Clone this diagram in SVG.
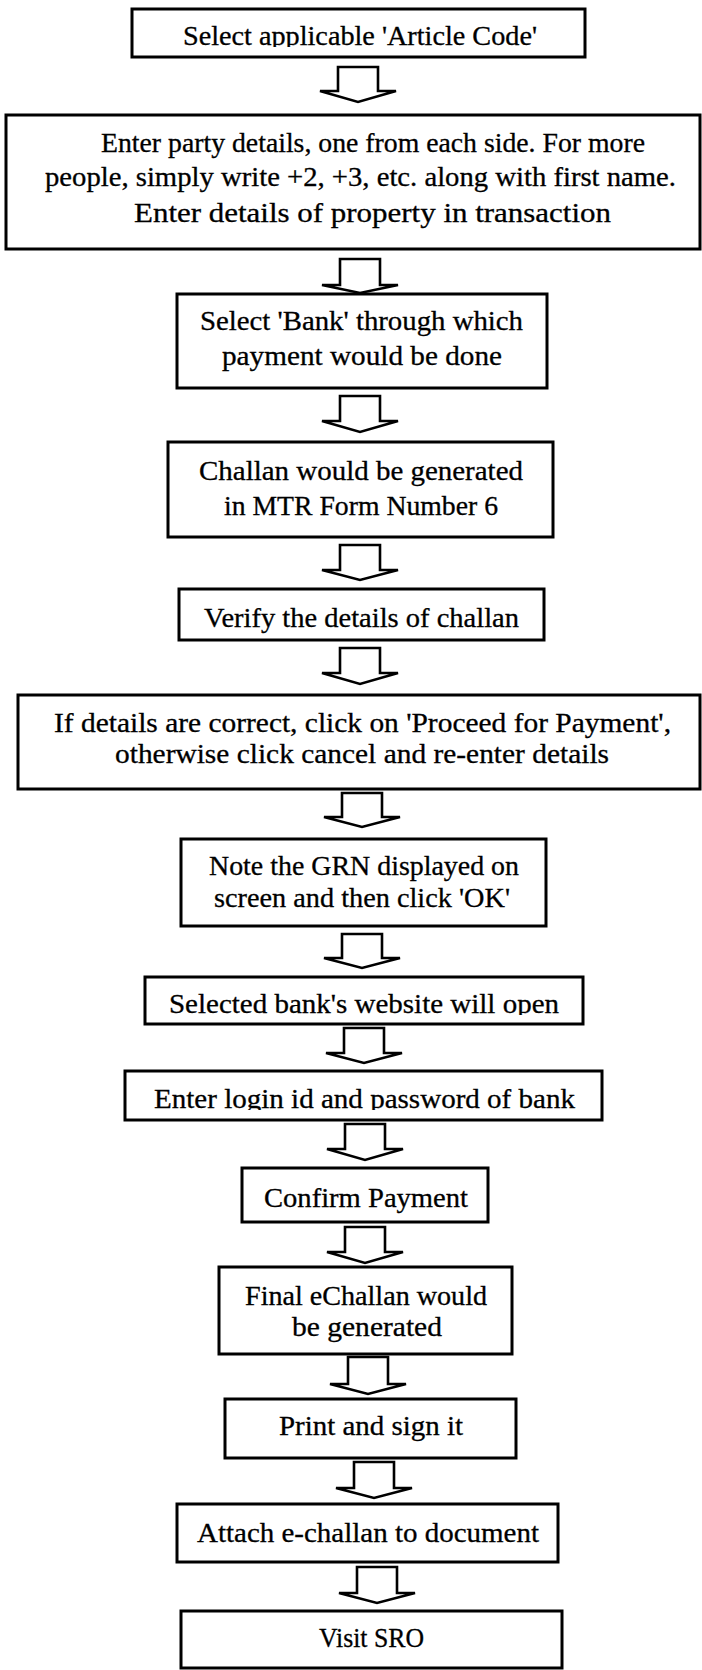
<svg xmlns="http://www.w3.org/2000/svg" width="702" height="1670" viewBox="0 0 702 1670">
<style>
.box{fill:#fff;stroke:#000;stroke-width:3}
.arr{fill:#fff;stroke:#000;stroke-width:2.6;stroke-linejoin:miter}
text{font-family:"Liberation Serif","Times New Roman",serif;font-size:27px;fill:#000;stroke:#000;stroke-width:0.3;text-anchor:middle}
</style>
<defs>
<clipPath id="c1"><rect x="0" y="0" width="702" height="47"/></clipPath>
<clipPath id="c8"><rect x="0" y="970" width="702" height="45"/></clipPath>
<clipPath id="c9"><rect x="0" y="1065" width="702" height="45"/></clipPath>
</defs>
<rect width="702" height="1670" fill="#fff"/>
<g id="connectors">
<polygon class="arr" points="338,67 378,67 378,91 396,91 358,102 320,91 338,91"/>
<polygon class="arr" points="340,259 380,259 380,285 398,285 360,293 322,285 340,285"/>
<polygon class="arr" points="340,396 380,396 380,421 398,421 360,432 322,421 340,421"/>
<polygon class="arr" points="340,545 380,545 380,570 398,570 360,580 322,570 340,570"/>
<polygon class="arr" points="340,648 380,648 380,673 398,673 360,684 322,673 340,673"/>
<polygon class="arr" points="342,793 382,793 382,817 400,817 362,827 324,817 342,817"/>
<polygon class="arr" points="342,934 382,934 382,958 400,958 362,968 324,958 342,958"/>
<polygon class="arr" points="344,1028 384,1028 384,1053 402,1053 364,1063 326,1053 344,1053"/>
<polygon class="arr" points="345,1124 385,1124 385,1149 403,1149 365,1160 327,1149 345,1149"/>
<polygon class="arr" points="345,1227 385,1227 385,1252 403,1252 365,1263 327,1252 345,1252"/>
<polygon class="arr" points="348,1357 388,1357 388,1384 406,1384 368,1394 330,1384 348,1384"/>
<polygon class="arr" points="354,1462 394,1462 394,1488 412,1488 374,1498 336,1488 354,1488"/>
<polygon class="arr" points="357,1567 397,1567 397,1593 415,1593 377,1603 339,1593 357,1593"/>
</g>
<g id="n1"><rect class="box" x="132" y="9" width="453" height="48"/>
<text x="360" y="45" textLength="354" lengthAdjust="spacingAndGlyphs" clip-path="url(#c1)">Select applicable 'Article Code'</text></g>
<g id="n2"><rect class="box" x="6" y="115" width="694" height="134"/>
<text x="373" y="152" textLength="544" lengthAdjust="spacingAndGlyphs">Enter party details, one from each side. For more</text>
<text x="360.5" y="186" textLength="631" lengthAdjust="spacingAndGlyphs">people, simply write +2, +3, etc. along with first name.</text>
<text x="372.5" y="222" textLength="477" lengthAdjust="spacingAndGlyphs">Enter details of property in transaction</text></g>
<g id="n3"><rect class="box" x="177" y="294" width="370" height="94"/>
<text x="361.5" y="330" textLength="323" lengthAdjust="spacingAndGlyphs">Select 'Bank' through which</text>
<text x="362" y="365" textLength="280" lengthAdjust="spacingAndGlyphs">payment would be done</text></g>
<g id="n4"><rect class="box" x="168" y="442" width="385" height="95"/>
<text x="361" y="480" textLength="324" lengthAdjust="spacingAndGlyphs">Challan would be generated</text>
<text x="361" y="515" textLength="274" lengthAdjust="spacingAndGlyphs">in MTR Form Number 6</text></g>
<g id="n5"><rect class="box" x="179" y="589" width="365" height="51"/>
<text x="361.5" y="627" textLength="315" lengthAdjust="spacingAndGlyphs">Verify the details of challan</text></g>
<g id="n6"><rect class="box" x="18" y="695" width="682" height="94"/>
<text x="362.5" y="732" textLength="617" lengthAdjust="spacingAndGlyphs">If details are correct, click  on 'Proceed for Payment',</text>
<text x="362" y="763" textLength="494" lengthAdjust="spacingAndGlyphs">otherwise click cancel and re-enter details</text></g>
<g id="n7"><rect class="box" x="181" y="839" width="365" height="87"/>
<text x="364" y="875" textLength="310" lengthAdjust="spacingAndGlyphs">Note the GRN displayed on</text>
<text x="362" y="907" textLength="296" lengthAdjust="spacingAndGlyphs">screen and then click 'OK'</text></g>
<g id="n8"><rect class="box" x="145" y="977" width="438" height="47"/>
<text x="364" y="1013" textLength="390" lengthAdjust="spacingAndGlyphs" clip-path="url(#c8)">Selected bank's website will open</text></g>
<g id="n9"><rect class="box" x="125" y="1071" width="477" height="49"/>
<text x="364.5" y="1108" textLength="421" lengthAdjust="spacingAndGlyphs" clip-path="url(#c9)">Enter login id and password of bank</text></g>
<g id="n10"><rect class="box" x="242" y="1168" width="246" height="54"/>
<text x="366" y="1207" textLength="204" lengthAdjust="spacingAndGlyphs">Confirm Payment</text></g>
<g id="n11"><rect class="box" x="219" y="1267" width="293" height="87"/>
<text x="366" y="1305" textLength="242" lengthAdjust="spacingAndGlyphs">Final eChallan would</text>
<text x="367" y="1336" textLength="150" lengthAdjust="spacingAndGlyphs">be generated</text></g>
<g id="n12"><rect class="box" x="225" y="1399" width="291" height="59"/>
<text x="371" y="1435" textLength="184" lengthAdjust="spacingAndGlyphs">Print and sign it</text></g>
<g id="n13"><rect class="box" x="177" y="1504" width="381" height="58"/>
<text x="368" y="1542" textLength="342" lengthAdjust="spacingAndGlyphs">Attach e-challan to document</text></g>
<g id="n14"><rect class="box" x="181" y="1611" width="381" height="57"/>
<text x="371.5" y="1647" textLength="105" lengthAdjust="spacingAndGlyphs">Visit SRO</text></g>
</svg>
